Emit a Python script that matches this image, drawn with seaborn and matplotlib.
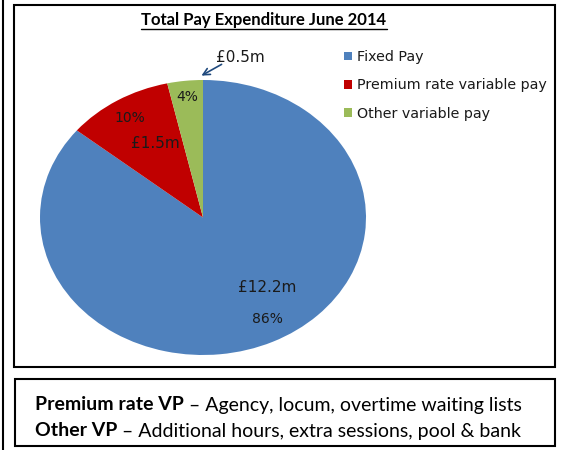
import matplotlib.pyplot as plt
import seaborn as sns
from matplotlib.patches import FancyArrowPatch, Patch, Rectangle

categories = ["Fixed Pay", "Premium rate variable pay", "Other variable pay"]
spend_m = [12.2, 1.5, 0.5]
value_labels = ["£12.2m", "£1.5m", "£0.5m"]
pct_labels = ["86%", "10%", "4%"]
title = "Total Pay Expenditure June 2014"
notes = [
    ("Premium rate VP", " – Agency, locum, overtime waiting lists"),
    ("Other VP", " – Additional hours, extra sessions, pool & bank"),
]

colors = ["#4F81BD", "#C00000", "#9BBB59"]
W, H = 562, 450

sns.set_theme(style="white")
plt.rcParams["font.family"] = ["DejaVu Sans"]
plt.rcParams["text.color"] = "black"


def px(x, y):
    return x / W, 1 - y / H


fig = plt.figure(figsize=(W / 100, H / 100), dpi=100)

# frames
fig.add_artist(plt.Line2D([3 / W, 3 / W], [0, 1], transform=fig.transFigure, color="black", lw=1.5))
fig.add_artist(Rectangle(px(14, 367), 541 / W, 362 / H, transform=fig.transFigure,
                         fill=False, edgecolor="black", lw=1.5))
fig.add_artist(Rectangle(px(15, 446), 540 / W, 67 / H, transform=fig.transFigure,
                         fill=False, edgecolor="black", lw=1.5))

# pie (elliptical, like the excel original)
ax = fig.add_axes([40 / W, (H - 355) / H, 326 / W, 275 / H])
wedges, _ = ax.pie(spend_m, colors=colors, startangle=90, counterclock=False,
                   wedgeprops={"linewidth": 0})
ax.set_aspect("auto")
ax.set_xlim(-1, 1)
ax.set_ylim(-1, 1)
ax.axis("off")

lbl_kw = dict(transform=fig.transFigure, ha="center", va="center", color="#1a1a1a")
fig.text(*px(267, 288), value_labels[0], fontsize=11, **lbl_kw)
fig.text(*px(267, 319), pct_labels[0], fontsize=10, **lbl_kw)
fig.text(*px(155, 143), value_labels[1], fontsize=11, **lbl_kw)
fig.text(*px(130, 118), pct_labels[1], fontsize=10, **lbl_kw)
fig.text(*px(187, 97), pct_labels[2], fontsize=10, **lbl_kw)
fig.text(*px(240, 57), value_labels[2], fontsize=11, **lbl_kw)
fig.add_artist(FancyArrowPatch(
    px(224, 63), px(199, 77), transform=fig.transFigure,
    arrowstyle="->", mutation_scale=12, color="#1F497D", lw=1.2))

t = fig.text(*px(264, 20), title, transform=fig.transFigure, ha="center", va="center",
             fontsize=12, fontweight="bold", family=["Lato", "DejaVu Sans"])
renderer = fig.canvas.get_renderer()
bb = t.get_window_extent(renderer)
fig.add_artist(plt.Line2D([bb.x0 / W, bb.x1 / W], [(bb.y0 - 1) / H] * 2,
                          transform=fig.transFigure, color="black", lw=1))

handles = [Patch(facecolor=c, edgecolor="none") for c in colors]
fig.legend(handles, categories, loc="upper left", bbox_to_anchor=px(344, 50),
           frameon=False, fontsize=10.3, handlelength=0.55, handleheight=0.55,
           handletextpad=0.35, labelspacing=1.0, borderaxespad=0, borderpad=0,
           labelcolor="#1a1a1a")

for i, (bold, rest) in enumerate(notes):
    y = 405 + i * 26
    tb = fig.text(*px(35, y), bold, transform=fig.transFigure, ha="left", va="center",
                  fontsize=14, fontweight="bold", family=["Lato", "DejaVu Sans"])
    b = tb.get_window_extent(renderer)
    fig.text(b.x1 / W, 1 - y / H, rest, transform=fig.transFigure, ha="left", va="center",
             fontsize=14, family=["Lato", "DejaVu Sans"])

fig.savefig("out.png", dpi=100)
